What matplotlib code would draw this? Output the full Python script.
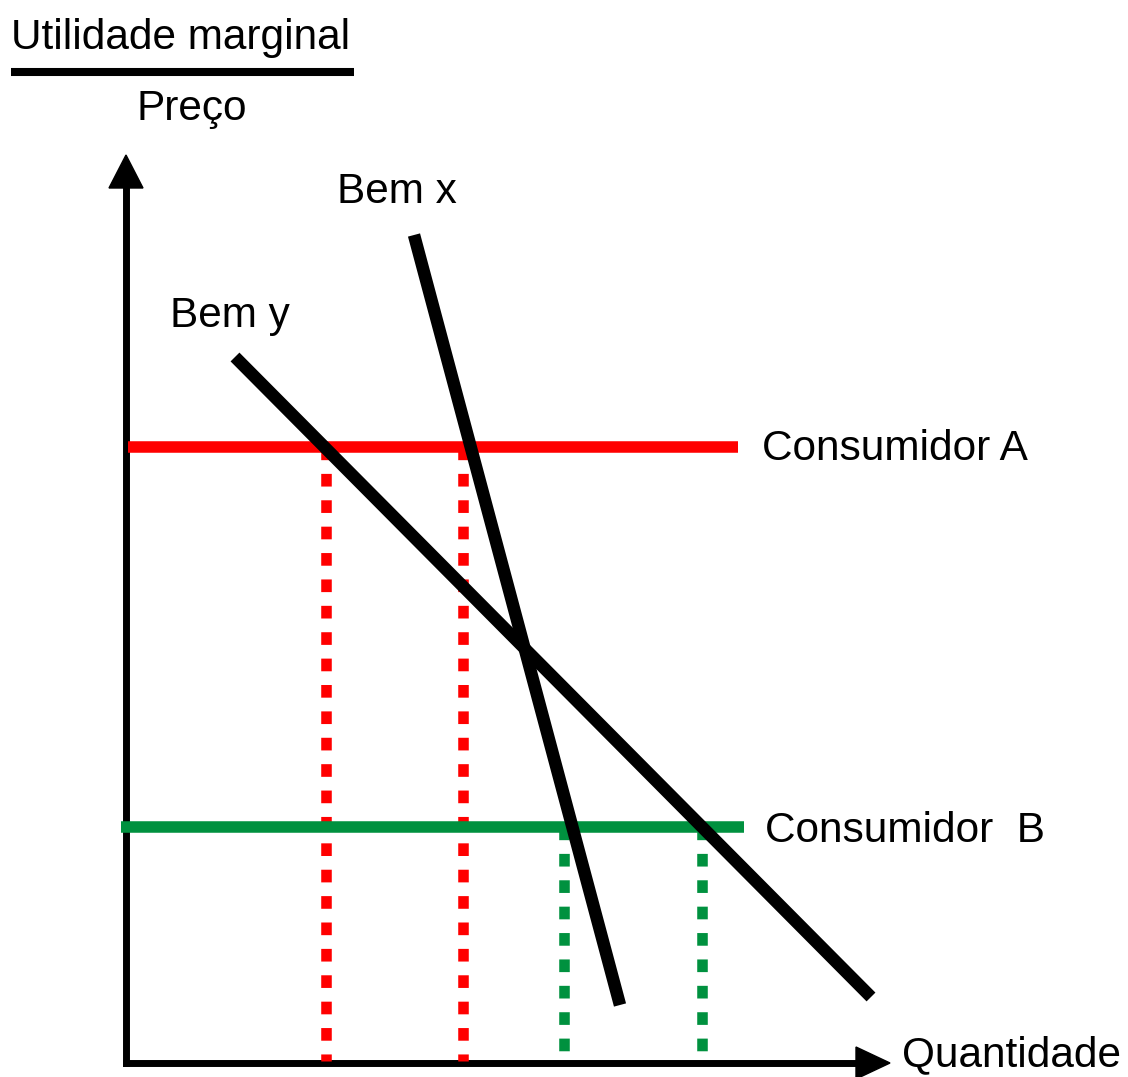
import matplotlib
matplotlib.use("Agg")
from matplotlib import pyplot as plt

plt.rcParams["font.family"] = ["Liberation Sans", "DejaVu Sans"]

# demand curves (quantity, marginal utility) endpoints
bem_x_q = [288, 494]
bem_x_p = [828, 58]
bem_y_q = [109, 745]
bem_y_p = [706, 66]

# price lines for each consumer
preco_a = 616
preco_b = 236
linha_a_q = [2, 612]
linha_b_q = [-5, 618]

# quantities demanded (dotted drop lines)
q_a = [200, 337]
q_b = [438, 576]

vermelho = "#ff0000"
verde = "#00913f"

fig = plt.figure(figsize=(11.28, 10.77), dpi=100)
ax = fig.add_axes([0, 0, 1, 1])
ax.set_xlim(-126, 1002)
ax.set_ylim(-14, 1063)
ax.axis("off")

# axes with arrow heads
ax.plot([0, 0], [0, 880], color="black", lw=5, solid_capstyle="projecting")
ax.plot([0, 735], [0, 0], color="black", lw=5, solid_capstyle="projecting")
ax.add_patch(plt.Polygon([[-17, 875], [17, 875], [0, 908]], color="black"))
ax.add_patch(plt.Polygon([[730, -16], [730, 16], [764, 0]], color="black"))

# dotted drop lines
for q in q_a:
    ax.plot([q, q], [preco_a, 2], color=vermelho, lw=7.6, linestyle=(0, (1.2, 1.3)))
for q in q_b:
    ax.plot([q, q], [preco_b, 2], color=verde, lw=7.6, linestyle=(0, (1.2, 1.3)))

# price lines
ax.plot(linha_a_q, [preco_a, preco_a], color=vermelho, lw=8.3, solid_capstyle="butt")
ax.plot(linha_b_q, [preco_b, preco_b], color=verde, lw=8.3, solid_capstyle="butt")

# demand curves
ax.plot(bem_x_q, bem_x_p, color="black", lw=9, solid_capstyle="butt")
ax.plot(bem_y_q, bem_y_p, color="black", lw=9, solid_capstyle="butt")

fs = 30.5
ax.text(211, 860, "Bem x", fontsize=fs, va="baseline")
ax.text(44, 736, "Bem y", fontsize=fs, va="baseline")
ax.text(636, 603, "Consumidor A", fontsize=fs, va="baseline")
ax.text(639, 221, "Consumidor  B", fontsize=fs, va="baseline")
ax.text(776, -3, "Quantidade", fontsize=fs, va="baseline")

# y-axis title as a fraction
ax.text(-115, 1014, "Utilidade marginal", fontsize=fs, va="baseline")
ax.plot([-115, 228], [991, 991], color="black", lw=5.8, solid_capstyle="butt")
ax.text(11, 943, "Preço", fontsize=fs, va="baseline")

fig.savefig("out.png", dpi=100)
